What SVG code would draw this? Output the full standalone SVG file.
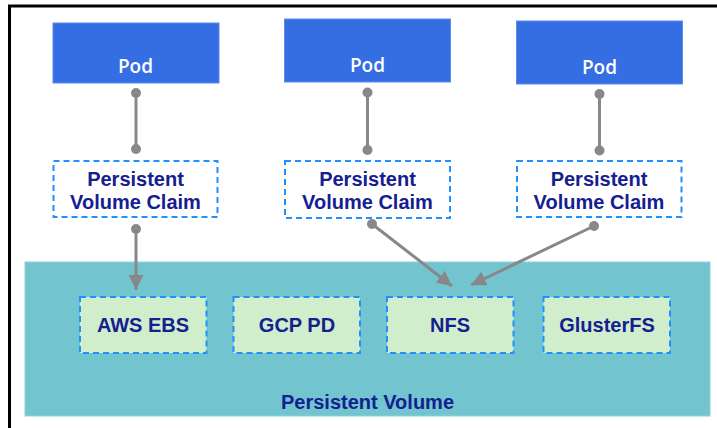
<svg xmlns="http://www.w3.org/2000/svg" width="717" height="428" viewBox="0 0 717 428">
<style>
.pod{fill:#356ee3;stroke:#5a8cf0;stroke-width:1}
.podt{font-family:"Open Sans","Noto Sans",sans-serif;font-weight:600;font-size:19px;fill:#ffffff;text-anchor:middle}
.pvc{fill:#ffffff;stroke:#1e90ff;stroke-width:2;stroke-dasharray:6 4}
.vol{fill:#d0eecb;stroke:#1e90ff;stroke-width:2;stroke-dasharray:6 4}
.lbl{font-family:"Liberation Sans",Arial,sans-serif;font-weight:bold;font-size:20px;fill:#14208f;text-anchor:middle}
.ln{stroke:#88888c;stroke-width:3;fill:none}
.dot{fill:#88888c}
</style>
<defs>
<marker id="ah" viewBox="0 0 10 10" refX="10" refY="5" markerWidth="5" markerHeight="5" orient="auto" markerUnits="strokeWidth">
<path d="M0,0 L10,5 L0,10 Z" fill="#88888c"/>
</marker>
</defs>
<rect x="0" y="0" width="717" height="428" fill="#ffffff"/>
<path d="M9.5,428 V6 H717" stroke="#000" stroke-width="3" fill="none"/>
<g id="pv">
<rect x="25" y="262" width="685" height="154" fill="#72c4cf" stroke="#8dd2da" stroke-width="1"/>
<text class="lbl" x="367.5" y="409">Persistent Volume</text>
</g>
<g id="pod1"><rect class="pod" x="53" y="23" width="166" height="60"/><text class="podt" x="135.5" y="73">Pod</text></g>
<g id="pod2"><rect class="pod" x="284.5" y="19" width="166" height="63"/><text class="podt" x="367.5" y="72">Pod</text></g>
<g id="pod3"><rect class="pod" x="516.5" y="21" width="166" height="63"/><text class="podt" x="599.5" y="74">Pod</text></g>
<g id="pvc1"><rect class="pvc" x="53.5" y="161" width="164" height="56"/><text class="lbl" x="135.5" y="185.5">Persistent</text><text class="lbl" x="135.5" y="208.5">Volume Claim</text></g>
<g id="pvc2"><rect class="pvc" x="285" y="161" width="165" height="57"/><text class="lbl" x="367.5" y="185.5">Persistent</text><text class="lbl" x="367.5" y="208.5">Volume Claim</text></g>
<g id="pvc3"><rect class="pvc" x="517" y="161" width="164.5" height="56"/><text class="lbl" x="599" y="185.5">Persistent</text><text class="lbl" x="599" y="208.5">Volume Claim</text></g>
<g id="aws"><rect class="vol" x="80" y="297" width="126.5" height="56"/><text class="lbl" x="143" y="332">AWS EBS</text></g>
<g id="gcp"><rect class="vol" x="233.5" y="297" width="126.5" height="56"/><text class="lbl" x="297" y="332">GCP PD</text></g>
<g id="nfs"><rect class="vol" x="387" y="297" width="126.5" height="56"/><text class="lbl" x="450" y="332">NFS</text></g>
<g id="gluster"><rect class="vol" x="543.5" y="297" width="126.5" height="56"/><text class="lbl" x="607" y="332">GlusterFS</text></g>
<g id="connectors">
<line class="ln" x1="136" y1="93" x2="136" y2="149"/>
<circle class="dot" cx="136" cy="93" r="5"/><circle class="dot" cx="136" cy="149" r="5"/>
<line class="ln" x1="367.5" y1="92.5" x2="367.5" y2="150"/>
<circle class="dot" cx="367.5" cy="92.5" r="5"/><circle class="dot" cx="367.5" cy="150" r="5"/>
<line class="ln" x1="599.5" y1="94" x2="599.5" y2="150.5"/>
<circle class="dot" cx="599.5" cy="94" r="5"/><circle class="dot" cx="599.5" cy="150.5" r="5"/>
<line class="ln" x1="136" y1="229" x2="136" y2="290" marker-end="url(#ah)"/>
<circle class="dot" cx="136" cy="229" r="5"/>
<line class="ln" x1="372" y1="224" x2="452" y2="286" marker-end="url(#ah)"/>
<circle class="dot" cx="372" cy="224" r="5"/>
<line class="ln" x1="594" y1="226" x2="471" y2="285" marker-end="url(#ah)"/>
<circle class="dot" cx="594" cy="226" r="5"/>
</g>
</svg>
